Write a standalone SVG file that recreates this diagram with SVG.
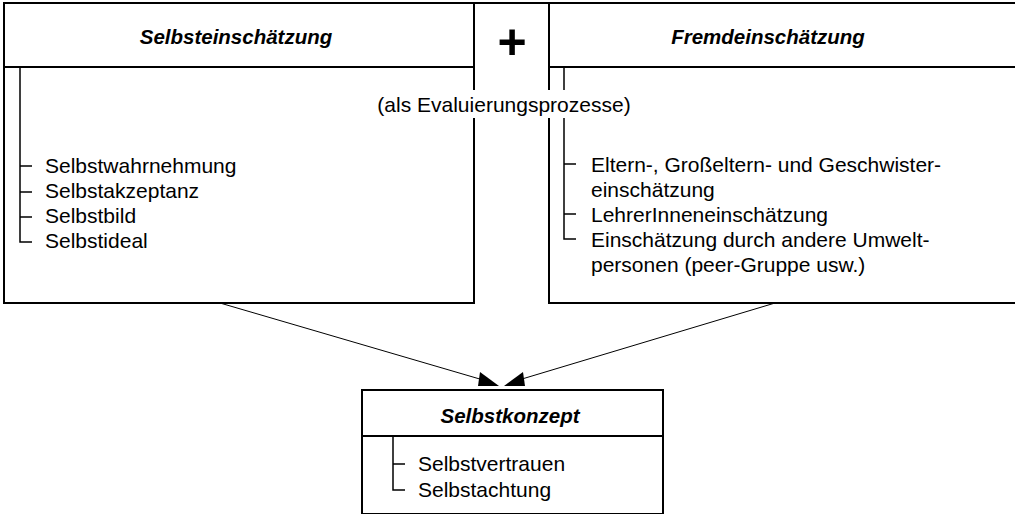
<svg xmlns="http://www.w3.org/2000/svg" width="1015" height="514" viewBox="0 0 1015 514">
<style>
.b{fill:none;stroke:#000;stroke-width:2}
.t{stroke:#000;stroke-width:1.5;fill:none}
.c{stroke:#000;stroke-width:1;fill:none}
text{font-family:"Liberation Sans",Arial,sans-serif;fill:#000}
.h{font-size:20.5px;font-weight:bold;font-style:italic;text-anchor:middle}
.l{font-size:21px}
</style>
<rect width="1015" height="514" fill="#fff"/>
<g id="connectors">
<line class="c" x1="220" y1="303" x2="490" y2="382"/>
<polygon points="480,372 478,386 499,386" fill="#000"/>
<line class="c" x1="775" y1="303" x2="512" y2="382"/>
<polygon points="523,372 525,386 504,386" fill="#000"/>
</g>
<g id="plus">
<line class="b" x1="474" y1="3" x2="549" y2="3"/>
<text x="512" y="59" font-size="50" font-weight="bold" text-anchor="middle">+</text>
</g>
<g id="selbsteinschaetzung">
<rect class="b" x="4" y="3" width="470" height="300"/>
<line class="b" x1="4" y1="67" x2="474" y2="67"/>
<text class="h" x="236" y="44">Selbsteinschätzung</text>
<path class="t" d="M20 67V242H32M20 166H32M20 192H32M20 217H32"/>
<text class="l" x="45" y="173">Selbstwahrnehmung</text>
<text class="l" x="45" y="198">Selbstakzeptanz</text>
<text class="l" x="45" y="223">Selbstbild</text>
<text class="l" x="45" y="248">Selbstideal</text>
</g>
<g id="fremdeinschaetzung">
<path class="b" d="M1016 3H549V303H1016M549 67H1016"/>
<text class="h" x="768" y="44">Fremdeinschätzung</text>
<path class="t" d="M564 67V239H576M564 164H576M564 214H576"/>
<text class="l" x="591" y="172">Eltern-, Großeltern- und Geschwister-</text>
<text class="l" x="591" y="197">einschätzung</text>
<text class="l" x="591" y="222">LehrerInneneinschätzung</text>
<text class="l" x="591" y="247">Einschätzung durch andere Umwelt-</text>
<text class="l" x="591" y="272">personen (peer-Gruppe usw.)</text>
</g>
<g id="evaluierung">
<rect x="378" y="90" width="252" height="28" fill="#fff"/>
<text class="l" x="504" y="112" text-anchor="middle">(als Evaluierungsprozesse)</text>
</g>
<g id="selbstkonzept">
<rect class="b" x="362" y="390" width="301" height="124" fill="#fff"/>
<line class="b" x1="362" y1="436" x2="663" y2="436"/>
<text class="h" x="510" y="423">Selbstkonzept</text>
<path class="t" d="M393 437V490H405M393 464H405"/>
<text class="l" x="418" y="471">Selbstvertrauen</text>
<text class="l" x="418" y="497">Selbstachtung</text>
</g>
</svg>
